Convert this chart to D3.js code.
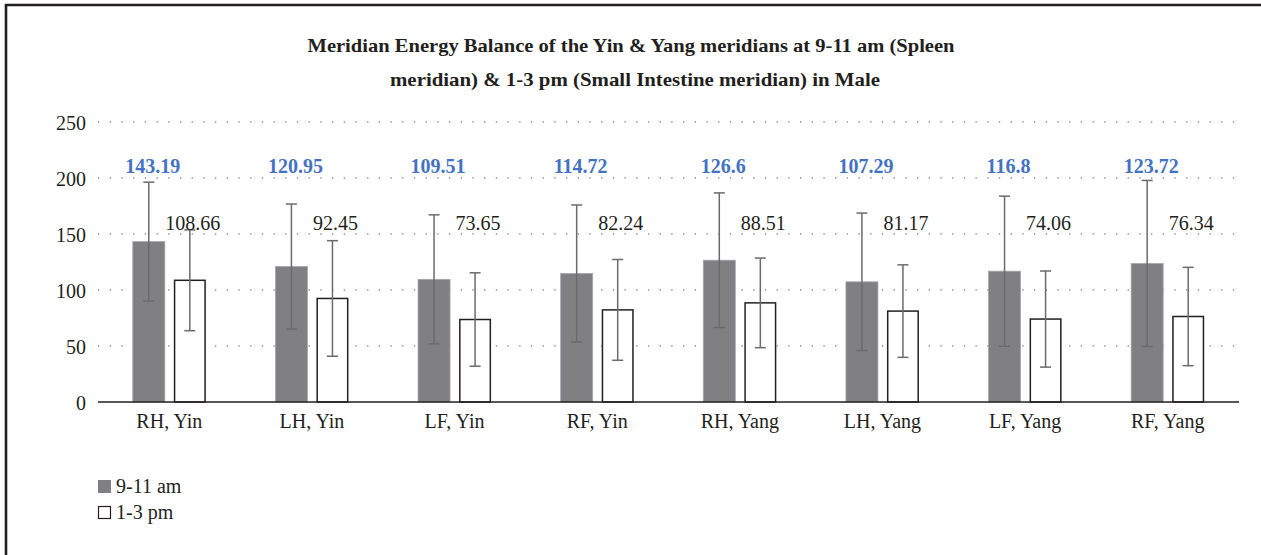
<!DOCTYPE html>
<html>
<head>
<meta charset="utf-8">
<script src="https://cdn.jsdelivr.net/npm/d3@7"></script>
<style>
  html, body { margin: 0; padding: 0; background: #fff; }
  svg { display: block; }
  text { font-family: "Liberation Serif", "DejaVu Serif", serif; fill: #231f20; }
</style>
</head>
<body>
<svg id="chart" width="1261" height="555"></svg>
<script>
// Meridian energy means and standard deviations, per measuring point
const categories = ["RH, Yin", "LH, Yin", "LF, Yin", "RF, Yin", "RH, Yang", "LH, Yang", "LF, Yang", "RF, Yang"];
const seriesNames = ["9-11 am", "1-3 pm"];
const morningMeans = [143.19, 120.95, 109.51, 114.72, 126.6, 107.29, 116.8, 123.72];
const afternoonMeans = [108.66, 92.45, 73.65, 82.24, 88.51, 81.17, 74.06, 76.34];
const morningSD = [53.1, 55.8, 57.6, 61.2, 60.1, 61.4, 67.0, 74.1];
const afternoonSD = [45.0, 51.6, 41.7, 45.0, 40.0, 41.3, 42.9, 43.9];
const yTicks = [0, 50, 100, 150, 200, 250];
const titleLines = [
  "Meridian Energy Balance of the Yin & Yang meridians at 9-11 am (Spleen",
  "meridian) & 1-3 pm (Small Intestine meridian) in Male"
];

const svg = d3.select("#chart");
const W = 1261, H = 555;

// frame lines along top and left edges
svg.append("line").attr("x1", 5).attr("x2", W).attr("y1", 5).attr("y2", 5)
  .attr("stroke", "#231f20").attr("stroke-width", 2.6);
svg.append("line").attr("x1", 6).attr("x2", 6).attr("y1", 4).attr("y2", H)
  .attr("stroke", "#231f20").attr("stroke-width", 2.6);

// title
svg.append("text").attr("x", 631).attr("y", 52).attr("text-anchor", "middle")
  .attr("font-size", 19.5).attr("font-weight", "bold")
  .attr("textLength", 647).attr("lengthAdjust", "spacingAndGlyphs")
  .text(titleLines[0]);
svg.append("text").attr("x", 635).attr("y", 86).attr("text-anchor", "middle")
  .attr("font-size", 19.5).attr("font-weight", "bold")
  .attr("textLength", 490).attr("lengthAdjust", "spacingAndGlyphs")
  .text(titleLines[1]);

const plotLeft = 98, plotRight = 1239;
const y = d3.scaleLinear().domain([0, 250]).range([402, 122]);
const x0 = d3.scaleBand().domain(categories).range([plotLeft, plotRight])
  .paddingInner(0.488).paddingOuter(0.244);
const x1 = d3.scaleBand().domain(seriesNames).range([0, x0.bandwidth()]).paddingInner(0.22);

// dotted gridlines
const grid = svg.append("g");
grid.selectAll("line").data(yTicks.filter(d => d > 0)).join("line")
  .attr("x1", plotLeft).attr("x2", plotRight)
  .attr("y1", d => y(d)).attr("y2", d => y(d))
  .attr("stroke", "#8c8c8c").attr("stroke-width", 1.3)
  .attr("stroke-dasharray", "1.3 10.4");

// y axis tick labels
const yAxis = d3.axisLeft(y).tickValues(yTicks).tickSize(0).tickPadding(0);
const yg = svg.append("g").attr("transform", `translate(86,0)`).call(yAxis);
yg.select(".domain").remove();
yg.selectAll("text").attr("font-size", 20).attr("fill", "#231f20")
  .attr("font-family", "Liberation Serif, serif").attr("dy", "0.35em");

// bars
const rows = categories.map((c, i) => ({
  cat: c,
  vals: [
    { s: seriesNames[0], v: morningMeans[i], sd: morningSD[i] },
    { s: seriesNames[1], v: afternoonMeans[i], sd: afternoonSD[i] }
  ]
}));

const groups = svg.append("g").selectAll("g").data(rows).join("g")
  .attr("transform", d => `translate(${x0(d.cat)},0)`);

groups.selectAll("rect").data(d => d.vals).join("rect")
  .attr("x", d => x1(d.s) + (d.s === seriesNames[1] ? 0.75 : 0))
  .attr("width", d => x1.bandwidth() - (d.s === seriesNames[1] ? 1.5 : 0))
  .attr("y", d => y(d.v))
  .attr("height", d => y(0) - y(d.v))
  .attr("fill", d => d.s === seriesNames[0] ? "#808083" : "#ffffff")
  .attr("stroke", d => d.s === seriesNames[0] ? "#a5a5a8" : "#231f20")
  .attr("stroke-width", d => d.s === seriesNames[0] ? 0.8 : 1.5);

// error bars
const eb = groups.selectAll("g.err").data(d => d.vals).join("g").attr("class", "err")
  .attr("transform", d => `translate(${x1(d.s) + x1.bandwidth() / 2},0)`);
eb.append("line").attr("x1", 0).attr("x2", 0)
  .attr("y1", d => y(d.v + d.sd)).attr("y2", d => y(d.v - d.sd))
  .attr("stroke", "#6b6b6d").attr("stroke-width", 1.5);
eb.selectAll("line.cap").data(d => [d.v + d.sd, d.v - d.sd]).join("line").attr("class", "cap")
  .attr("x1", -5.5).attr("x2", 5.5)
  .attr("y1", d => y(d)).attr("y2", d => y(d))
  .attr("stroke", "#6b6b6d").attr("stroke-width", 1.5);

// value labels
groups.append("text")
  .attr("x", x1(seriesNames[0]) + x1.bandwidth() / 2 + 4)
  .attr("y", 173).attr("text-anchor", "middle")
  .attr("font-size", 20).attr("font-weight", "bold").style("fill", "#4472c4")
  .text(d => d.vals[0].v);
groups.append("text")
  .attr("x", x1(seriesNames[1]) + x1.bandwidth() / 2 + 3)
  .attr("y", 230).attr("text-anchor", "middle")
  .attr("font-size", 20)
  .text(d => d.vals[1].v);

// baseline and category labels
svg.append("line").attr("x1", plotLeft).attr("x2", plotRight)
  .attr("y1", y(0)).attr("y2", y(0))
  .attr("stroke", "#231f20").attr("stroke-width", 1.5);
const xAxis = d3.axisBottom(x0).tickSize(0).tickPadding(0);
const xg = svg.append("g").attr("transform", `translate(0,${y(0)})`).call(xAxis);
xg.select(".domain").remove();
xg.selectAll("text").attr("font-size", 20).attr("fill", "#231f20")
  .attr("font-family", "Liberation Serif, serif").attr("dy", "1.3em");

// legend
const legend = svg.append("g").selectAll("g").data(seriesNames).join("g")
  .attr("transform", (d, i) => `translate(98,${480 + i * 26})`);
legend.append("rect")
  .attr("x", (d, i) => i ? 0.5 : 0).attr("y", (d, i) => i ? 0.5 : 0)
  .attr("width", (d, i) => i ? 12 : 13).attr("height", (d, i) => i ? 12 : 13)
  .attr("fill", (d, i) => i ? "#fff" : "#808083")
  .attr("stroke", (d, i) => i ? "#231f20" : "none").attr("stroke-width", 1.2);
legend.append("text").attr("x", 18).attr("y", 13).attr("font-size", 20).text(d => d);
</script>
</body>
</html>
